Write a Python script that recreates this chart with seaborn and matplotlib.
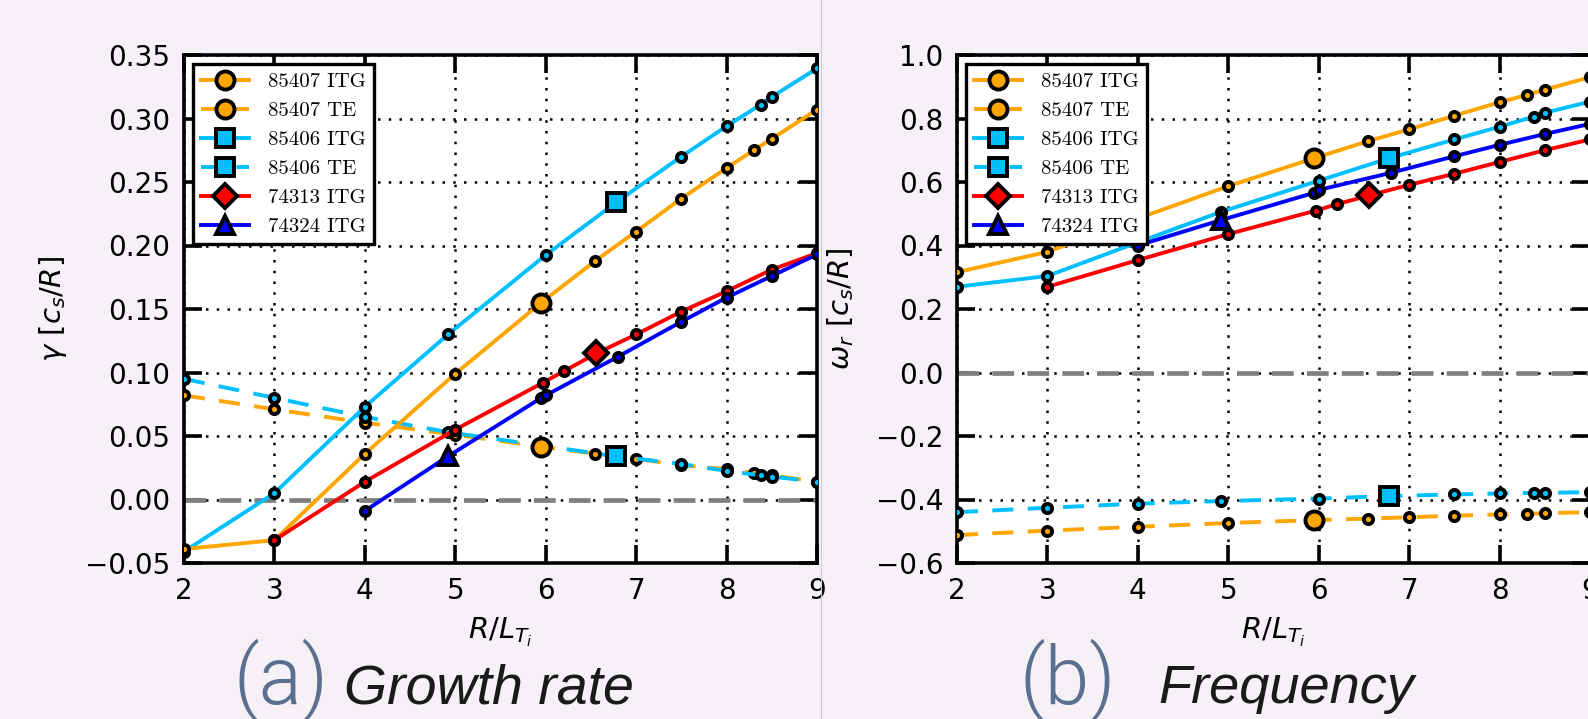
import numpy as np
import pandas as pd
import matplotlib
matplotlib.use("Agg")
import matplotlib.pyplot as plt
from matplotlib.lines import Line2D
import seaborn as sns

# ---------------- data ----------------
# panel (a) growth rate, panel (b) real frequency
x_o = [2, 3, 4, 5, 5.95, 6.55, 7, 7.5, 8, 8.3, 8.5, 9]           # 85407
gam_o_itg = [-0.039, -0.032, 0.036, 0.099, 0.155, 0.188, 0.211, 0.237, 0.261, 0.275, 0.284, 0.307]
gam_o_te = [0.082, 0.071, 0.0605, 0.051, 0.0416, 0.036, 0.032, 0.027, 0.024, 0.021, 0.019, 0.014]
om_o_itg = [0.316, 0.380, 0.485, 0.587, 0.675, 0.729, 0.766, 0.809, 0.851, 0.874, 0.891, 0.930]
om_o_te = [-0.512, -0.498, -0.486, -0.474, -0.465, -0.460, -0.456, -0.451, -0.447, -0.445, -0.443, -0.440]

x_c = [2, 3, 4, 4.92, 6, 6.78, 7.5, 8, 8.38, 8.5, 9]               # 85406
gam_c_itg = [-0.041, 0.005, 0.073, 0.130, 0.1925, 0.234, 0.270, 0.294, 0.311, 0.317, 0.3395]
gam_c_te = [0.095, 0.080, 0.065, 0.053, 0.042, 0.034, 0.028, 0.0225, 0.019, 0.018, 0.014]
om_c_itg = [0.270, 0.304, 0.410, 0.506, 0.604, 0.675, 0.734, 0.774, 0.806, 0.818, 0.853]
om_c_te = [-0.440, -0.426, -0.413, -0.405, -0.397, -0.389, -0.384, -0.381, -0.379, -0.379, -0.377]

x_r = [3, 4, 5, 5.97, 6.2, 6.56, 7, 7.5, 8, 8.5, 9]                # 74313
gam_r = [-0.032, 0.014, 0.055, 0.092, 0.101, 0.115, 0.130, 0.148, 0.164, 0.181, 0.194]
om_r = [0.270, 0.354, 0.436, 0.510, 0.530, 0.558, 0.591, 0.626, 0.663, 0.700, 0.734]

x_b = [4, 4.92, 5.95, 6.0, 6.8, 7.5, 8, 8.5, 9]                    # 74324
gam_b = [-0.009, 0.034, 0.080, 0.082, 0.1125, 0.140, 0.159, 0.176, 0.193]
om_b = [0.400, 0.480, 0.566, 0.575, 0.629, 0.681, 0.717, 0.751, 0.783]

# index of the highlighted (large marker) case in each series
hl_o, hl_c, hl_r, hl_b = 4, 5, 5, 1

labels = ["85407 ITG", "85407 TE", "85406 ITG", "85406 TE", "74313 ITG", "74324 ITG"]
x_ticks = [2, 3, 4, 5, 6, 7, 8, 9]
yticks_a = [-0.05, 0.0, 0.05, 0.10, 0.15, 0.20, 0.25, 0.30, 0.35]
yticks_b = [-0.6, -0.4, -0.2, 0.0, 0.2, 0.4, 0.6, 0.8, 1.0]

C_OR, C_CY, C_RD, C_BL = "#FFA500", "#00BFFF", "#FF0000", "#0000FF"
BG = "#f5f1f7"

# ---------------- figure ----------------
fig = plt.figure(figsize=(15.88, 7.19), dpi=100)
fig.patch.set_facecolor(BG)

W = 633 / 1588
H = 508 / 719
B = (719 - 563) / 719
ax_a = fig.add_axes([184 / 1588, B, W, H])
ax_b = fig.add_axes([957 / 1588, B, W, H])

LW = 2.8
SMS, MEW = 6.6, 2.8
TE_DASH = (5.4, 3.7)

series_specs = [
    ("o_itg", x_o, C_OR, False, "o", 13, hl_o),
    ("o_te", x_o, C_OR, True, "o", 13, hl_o),
    ("c_itg", x_c, C_CY, False, "s", 12.5, hl_c),
    ("c_te", x_c, C_CY, True, "s", 12.5, hl_c),
    ("r", x_r, C_RD, False, "D", 12.5, hl_r),
    ("b", x_b, C_BL, False, "^", 13, hl_b),
]
vals_a = {"o_itg": gam_o_itg, "o_te": gam_o_te, "c_itg": gam_c_itg,
          "c_te": gam_c_te, "r": gam_r, "b": gam_b}
vals_b = {"o_itg": om_o_itg, "o_te": om_o_te, "c_itg": om_c_itg,
          "c_te": om_c_te, "r": om_r, "b": om_b}

order = ["o_te", "c_te", "c_itg", "o_itg", "r", "b"]


def draw_panel(ax, vals):
    ax.set_facecolor("white")
    ax.axhline(0, color="#808080", lw=3.4, ls="--", dashes=(4.6, 2.8), zorder=1.6)
    spec = {s[0]: s for s in series_specs}
    for z, key in enumerate(order):
        _, xs, col, dashed, bm, bms, hi = spec[key]
        ys = vals[key]
        df = pd.DataFrame({"x": xs, "y": ys})
        n_before = len(ax.lines)
        sns.lineplot(data=df, x="x", y="y", ax=ax, color=col, linewidth=LW,
                     marker="o", markersize=SMS, markeredgecolor="k",
                     markeredgewidth=MEW, markerfacecolor=col,
                     estimator=None, sort=False, legend=False, zorder=3 + z * 0.1)
        ln = ax.lines[n_before]
        if dashed:
            ln.set_dashes(TE_DASH)
        dh = df.iloc[[hi]]
        sns.lineplot(data=dh, x="x", y="y", ax=ax, color=col, linewidth=0,
                     marker=bm, markersize=bms, markeredgecolor="k",
                     markeredgewidth=MEW, markerfacecolor=col,
                     estimator=None, legend=False, zorder=5 + z * 0.1)
    ax.set_xlim(2, 9)
    ax.set_xticks(x_ticks)
    ax.grid(True, color="k", lw=1.8, ls=(0, (1, 3.3)), zorder=1)
    ax.set_axisbelow(True)
    ax.tick_params(direction="in", length=13, width=2.6, top=True, right=True,
                   labelsize=20, pad=10, colors="k")
    ax.minorticks_off()
    for sp in ax.spines.values():
        sp.set_linewidth(2.6)
        sp.set_color("k")
    ax.set_xlabel(r"$R/L_{T_i}$", fontsize=21)
    ax.xaxis.set_label_coords(0.5, -0.104)

    handles = []
    for key, lab in zip(["o_itg", "o_te", "c_itg", "c_te", "r", "b"], labels):
        _, xs, col, dashed, bm, bms, hi = spec[key]
        h = Line2D([], [], color=col, lw=LW, marker=bm, markersize=bms,
                   markerfacecolor=col, markeredgecolor="k", markeredgewidth=MEW,
                   label=lab)
        if dashed:
            h.set_dashes(TE_DASH)
        handles.append(h)
    leg = ax.legend(handles=handles, loc="upper left", numpoints=1,
                    prop={"family": "cmr10", "size": 15},
                    frameon=True, fancybox=False, framealpha=1,
                    edgecolor="k", facecolor="white",
                    borderpad=0.38, labelspacing=0.5, handlelength=2.3,
                    handletextpad=0.9, borderaxespad=0.45)
    leg.get_frame().set_linewidth(2.4)
    leg.set_zorder(10)


draw_panel(ax_a, vals_a)
ax_a.set_ylim(-0.05, 0.35)
ax_a.set_yticks(yticks_a)
ax_a.set_ylabel(r"$\gamma\ [c_s/R]$", fontsize=21)
ax_a.yaxis.set_label_coords(-0.182, 0.5)

draw_panel(ax_b, vals_b)
ax_b.set_ylim(-0.6, 1.0)
ax_b.set_yticks(yticks_b)
ax_b.set_ylabel(r"$\omega_r\ [c_s/R]$", fontsize=21)
ax_b.yaxis.set_label_coords(-0.16, 0.5)

# thin divider between the two sub-images
fig.add_artist(Line2D([821 / 1588, 821 / 1588], [0, 1], transform=fig.transFigure,
                      color="#cfcad3", lw=0.8))

# captions
cap_y = (719 - 703) / 719
fig.text(281 / 1588, cap_y, "(a)", ha="center", va="baseline", fontsize=58,
         color="#5b6f8f", family=["Roboto", "DejaVu Sans"], weight=300)
fig.text(344 / 1588, cap_y, "Growth rate", ha="left", va="baseline", fontsize=40,
         style="italic", color="#1a1a1a", family=["Liberation Sans", "DejaVu Sans"])
fig.text(1068 / 1588, cap_y, "(b)", ha="center", va="baseline", fontsize=58,
         color="#5b6f8f", family=["Roboto", "DejaVu Sans"], weight=300)
fig.text(1158 / 1588, cap_y, "Frequency", ha="left", va="baseline", fontsize=39,
         style="italic", color="#1a1a1a", family=["Liberation Sans", "DejaVu Sans"])

fig.savefig("out.png", dpi=100, facecolor=fig.get_facecolor())
